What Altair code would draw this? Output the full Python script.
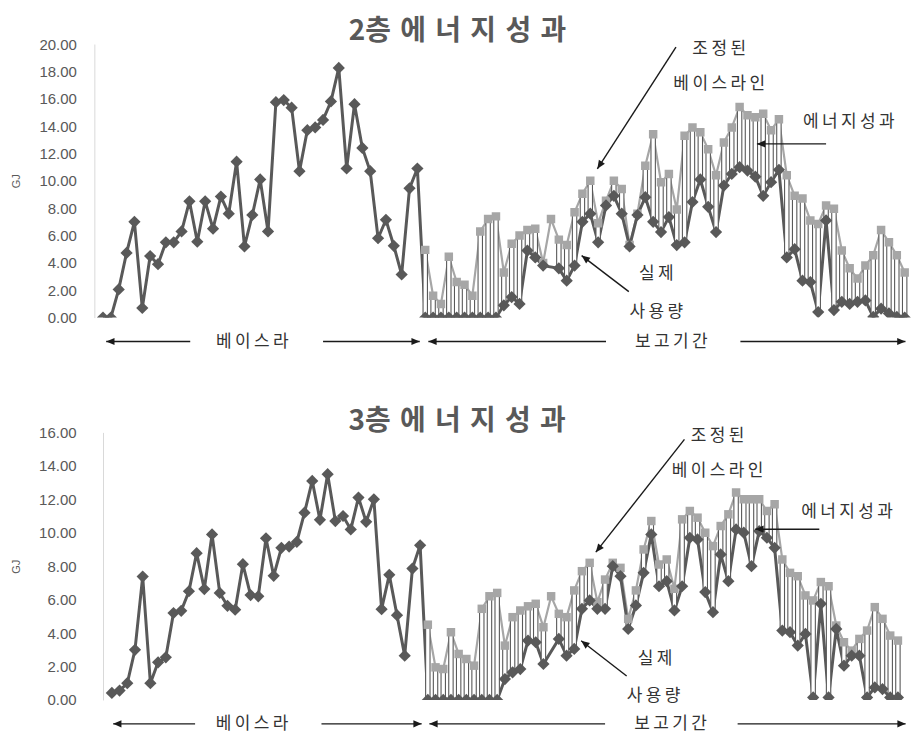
import math
import altair as alt
import pandas as pd

# ---- 2층 (GJ) ----
# 베이스라인 기간 월별 사용량
base_2f = [0.0, 0.0, 2.06, 4.73, 7.0, 0.7, 4.5, 3.9, 5.5, 5.5, 6.3, 8.5, 5.55, 8.5,
           6.5, 8.85, 7.6, 11.4, 5.2, 7.5, 10.1, 6.3, 15.75, 15.9, 15.35, 10.7, 13.7,
           13.9, 14.45, 15.8, 18.25, 10.9, 15.6, 12.4, 10.7, 5.8, 7.15, 5.25, 3.15,
           9.45, 10.9]
# 보고기간 조정된 베이스라인
adj_2f = [4.95, 1.6, 1.0, 4.45, 2.6, 2.4, 1.6, 6.3, 7.2, 7.4,
          3.3, 5.4, 6.0, 6.4, 6.5, 4.0, 7.2, 5.7, 5.3, 7.7,
          9.05, 10.0, 6.9, 8.55, 10.0, 9.4, 5.3, 7.6, 11.1, 13.4,
          9.9, 10.5, 7.9, 13.3, 13.9, 13.55, 12.3, 10.4, 12.8, 13.9,
          15.4, 14.8, 14.65, 14.9, 13.7, 14.5, 10.4, 8.9, 8.7, 7.1,
          6.85, 8.2, 7.95, 4.9, 3.6, 2.85, 3.8, 4.55, 6.4, 5.5,
          4.55, 3.3]
# 보고기간 실제 사용량 (None: 결측)
act_2f = [0.0, 0.0, 0.0, 0.0, 0.0, 0.0, 0.0, 0.0, 0.0, 0.0,
          0.9, 1.5, 1.0, 4.9, 4.4, 3.8, None, 3.6, 2.7, 3.8,
          7.0, 7.6, 5.5, 8.2, 8.9, 7.6, 5.2, 7.5, 8.8, 7.0,
          6.25, 7.35, 5.3, 5.5, 8.45, 10.1, 8.1, 6.25, 9.65, 10.5,
          11.0, 10.75, 10.3, 8.9, 9.9, 10.8, 4.4, 5.0, 2.7, 2.6,
          0.4, 7.1, 0.55, 1.15, 1.0, 1.15, 1.25, 0.05, 0.65, 0.3,
          0.05, 0.0]

# ---- 3층 (GJ) ----
base_3f = [0.42, 0.56, 1.0, 3.0, 7.38, 1.0, 2.25, 2.55, 5.2, 5.33, 6.5, 8.78, 6.63,
           9.9, 6.4, 5.63, 5.4, 8.12, 6.27, 6.2, 9.67, 7.42, 9.1, 9.17, 9.45, 11.2,
           13.1, 10.77, 13.5, 10.7, 11.0, 10.2, 12.1, 10.65, 12.0, 5.43, 7.48, 5.07,
           2.65, 7.86, 9.25]
adj_3f = [4.5, 1.95, 1.85, 4.05, 2.75, 2.45, 2.05, 5.45, 6.2, 6.4,
          3.25, 4.95, 5.35, 5.6, 5.75, 4.35, 6.2, 5.15, 4.95, 6.55,
          7.7, 8.2, 5.85, 7.2, 8.2, 7.9, 4.85, 6.55, 9.0, 10.7,
          8.1, 8.4, 6.65, 10.8, 11.3, 10.9, 10.0, 9.2, 10.4, 11.1,
          12.4, 12.0, 12.0, 12.0, 11.3, 11.7, 8.4, 7.6, 7.4, 6.25,
          5.95, 7.05, 6.8, 4.45, 3.45, 2.95, 3.65, 4.15, 5.55, 4.85,
          3.85, 3.55]
act_3f = [0.0, 0.0, 0.0, 0.0, 0.0, 0.0, 0.0, 0.0, 0.0, 0.0,
          1.25, 1.65, 1.85, 3.55, 3.45, 2.15, None, 3.65, 2.65, 3.05,
          5.45, 5.95, 5.45, 5.45, 8.0, 7.4, 4.25, 5.65, 7.6, 9.9,
          6.8, 7.1, 5.35, 6.8, 9.7, 9.6, 6.45, 5.25, 8.7, 7.1,
          10.2, 10.0, 8.0, 10.1, 9.7, 9.1, 4.15, 4.05, 3.25, 3.95,
          0.15, 5.75, 0.15, 4.25, 2.05, 2.65, 2.65, 0.15, 0.75, 0.65,
          0.15, 0.15]

ticks_2f = [0, 2, 4, 6, 8, 10, 12, 14, 16, 18, 20]
ticks_3f = [0, 2, 4, 6, 8, 10, 12, 14, 16]

DARK = "#595959"
LIGHT = "#A6A6A6"
INK = "#1a1a1a"
KR = "Noto Sans CJK KR"
HEAD = "M0,0L1,2.3L-1,2.3Z"  # arrowhead pointing up, tip on the anchor point


def spaced(text, gap="\u2009"):
    return gap.join(text)


def build_panel(title, base, adj, act, ymax, ticks, g):
    n0 = len(base)
    actual = base + act
    df_act = pd.DataFrame({"i": list(range(len(actual))), "v": actual}).dropna()
    df_adj = pd.DataFrame({"i": list(range(n0, n0 + len(adj))), "v": adj})
    df_bar = pd.DataFrame(
        [{"i": n0 + k, "lo": min(a, b), "hi": max(a, b)}
         for k, (a, b) in enumerate(zip(adj, act)) if b is not None]
    )

    xs = alt.Scale(domain=g["xdom"], nice=False, zero=False)
    ys = alt.Scale(domain=[0, ymax], nice=False, zero=True)
    yaxis = alt.Axis(
        values=ticks, format=".2f", grid=False, ticks=False,
        domainColor="#D9D9D9", domainWidth=1, offset=g["axis_offset"],
        labelPadding=g["label_pad"], labelFont="Liberation Sans",
        labelFontSize=15, labelColor=DARK,
        title="GJ", titleFont="Liberation Sans", titleFontSize=11,
        titleFontWeight="normal", titleColor=DARK, titleAngle=270,
        titleX=g["title_x"], titleY=g["h"] / 2,
        titleBaseline="middle", titleAlign="center",
    )

    def X(f):
        return alt.X(f, type="quantitative", scale=xs, axis=None)

    def Y(f):
        return alt.Y(f, type="quantitative", scale=ys, axis=yaxis)

    px = g["w"] / (g["xdom"][1] - g["xdom"][0])
    py = g["h"] / ymax

    def bearing(i0, v0, i1, v1):
        dx = (i1 - i0) * px
        dy = -(v1 - v0) * py
        return math.degrees(math.atan2(dx, -dy)) % 360

    rules, heads = [], []
    for i0, v0, i1, v1 in g["pointers"]:
        rules.append({"i": i0, "v": v0, "i2": i1, "v2": v1})
        heads.append({"i": i1, "v": v1, "a": bearing(i0, v0, i1, v1)})
    df_rule = pd.DataFrame(rules)
    df_head = pd.DataFrame(heads)
    df_note = pd.DataFrame(g["notes"], columns=["i", "v", "t"])
    df_title = pd.DataFrame([{"i": g["title_at"][0], "v": g["title_at"][1], "t": title}])

    light_line = alt.Chart(df_adj).mark_line(
        color=LIGHT, strokeWidth=2.2, clip=True
    ).encode(x=X("i"), y=Y("v"))
    dark_line = alt.Chart(df_act).mark_line(
        color=DARK, strokeWidth=3, clip=True
    ).encode(x=X("i"), y=Y("v"))
    bars = alt.Chart(df_bar).mark_bar(
        size=4.4, fill="white", stroke=DARK, strokeWidth=1.1, clip=True
    ).encode(x=X("i"), y=Y("lo"), y2=alt.Y2("hi"))
    squares = alt.Chart(df_adj).mark_point(
        shape="square", filled=True, size=72, color=LIGHT, opacity=1,
        strokeWidth=0, clip=True
    ).encode(x=X("i"), y=Y("v"))
    diamonds = alt.Chart(df_act).mark_point(
        shape="diamond", filled=True, size=150, color=DARK, opacity=1,
        strokeWidth=0, clip=True
    ).encode(x=X("i"), y=Y("v"))

    pointer_lines = alt.Chart(df_rule).mark_rule(
        color=INK, strokeWidth=1.4
    ).encode(x=X("i"), y=Y("v"), x2=alt.X2("i2"), y2=alt.Y2("v2"))
    pointer_heads = alt.Chart(df_head).mark_point(
        shape=HEAD, filled=True, size=52, color=INK, opacity=1, strokeWidth=0
    ).encode(x=X("i"), y=Y("v"), angle=alt.Angle("a:Q", scale=None))
    notes = alt.Chart(df_note).mark_text(
        font=KR, fontSize=17, color="#333333", align="center", baseline="middle"
    ).encode(x=X("i"), y=Y("v"), text="t:N")
    heading = alt.Chart(df_title).mark_text(
        font=KR, fontSize=28, fontWeight="bold", color=DARK,
        align="center", baseline="middle"
    ).encode(x=X("i"), y=Y("v"), text="t:N")

    return alt.layer(
        light_line, dark_line, bars, squares, diamonds,
        pointer_lines, pointer_heads, notes, heading,
    ).properties(width=g["w"], height=g["h"])


TITLE_GAP = "\u2004"

# both plot areas start at the same left edge; the 3층 axis is pulled inward
top = build_panel(
    "2층" + TITLE_GAP + TITLE_GAP.join("에너지성과"),
    base_2f, adj_2f, act_2f, 20, ticks_2f,
    {
        "w": 818, "h": 274, "xdom": [-0.464, 102.17],
        "axis_offset": 0, "label_pad": 18, "title_x": -78,
        "title_at": (45.1, 20.9),
        "pointers": [
            (72.9, 19.78, 62.9, 10.88),
            (92.0, 12.70, 83.2, 12.70),
            (66.9, 1.90, 60.9, 4.53),
            (11.1, -1.75, 0.41, -1.75),
            (28.0, -1.75, 40.3, -1.75),
            (64.0, -1.75, 41.4, -1.75),
            (81.1, -1.75, 102.1, -1.75),
        ],
        "notes": [
            (78.4, 19.63, spaced("조정된")),
            (78.4, 17.08, spaced("베이스라인")),
            (94.9, 14.31, spaced("에너지성과")),
            (70.4, 3.21, spaced("실제")),
            (70.4, 0.44, spaced("사용량")),
            (19.0, -1.75, spaced("베이스라")),
            (72.3, -1.75, spaced("보고기간")),
        ],
    },
)

bottom = build_panel(
    "3층" + TITLE_GAP + TITLE_GAP.join("에너지성과"),
    base_3f, adj_3f, act_3f, 16, ticks_3f,
    {
        "w": 818, "h": 268, "xdom": [-1.625, 103.05],
        "axis_offset": -8.7, "label_pad": 27, "title_x": -86.7,
        "title_at": (44.8, 16.6),
        "pointers": [
            (74.3, 15.58, 62.8, 8.84),
            (91.8, 10.21, 83.5, 10.21),
            (66.8, 1.43, 60.9, 3.54),
            (10.8, -1.43, 0.17, -1.43),
            (27.2, -1.43, 40.2, -1.43),
            (64.0, -1.43, 41.2, -1.43),
            (81.2, -1.43, 103.0, -1.43),
        ],
        "notes": [
            (78.6, 15.76, spaced("조정된")),
            (78.6, 13.67, spaced("베이스라인")),
            (95.4, 11.22, spaced("에너지성과")),
            (70.5, 2.45, spaced("실제")),
            (70.3, 0.24, spaced("사용량")),
            (18.2, -1.43, spaced("베이스라")),
            (72.5, -1.43, spaced("보고기간")),
        ],
    },
)

chart = alt.vconcat(top, bottom, spacing=57).properties(
    padding={"left": 9.5, "top": 16.5, "right": 0, "bottom": 0},
    background="white",
).configure_view(stroke="transparent")

chart.save("out.html", embed_options={"renderer": "svg", "actions": False})
